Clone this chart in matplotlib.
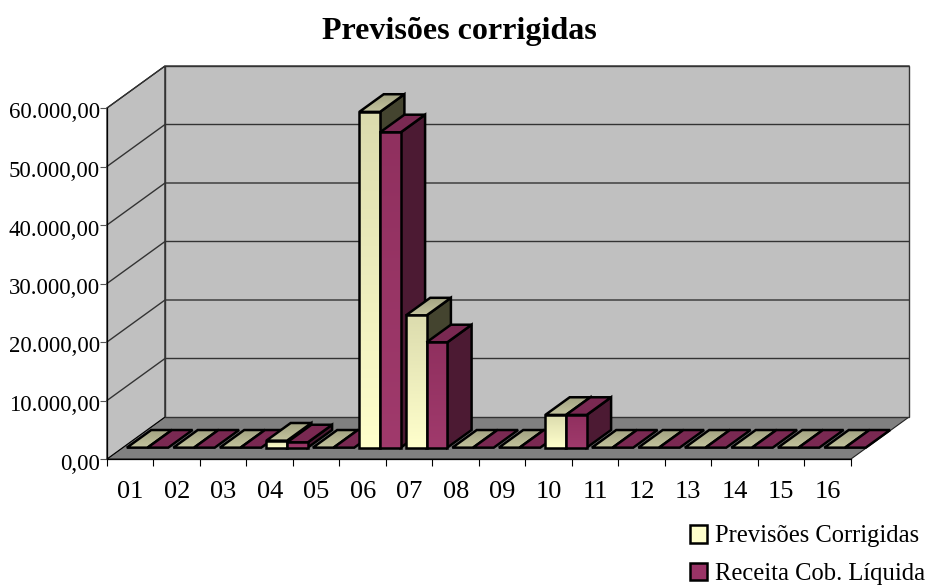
import numpy as np
import matplotlib
matplotlib.use("Agg")
import matplotlib.pyplot as plt
from matplotlib.colors import LinearSegmentedColormap
from matplotlib.patches import Patch, Polygon
from matplotlib.transforms import ScaledTranslation

plt.rcParams["font.family"] = ["Liberation Serif", "DejaVu Serif"]

categories = ["01", "02", "03", "04", "05", "06", "07", "08",
              "09", "10", "11", "12", "13", "14", "15", "16"]
previsoes = [0, 0, 0, 1200, 0, 57400, 22600, 0, 0, 5600, 0, 0, 0, 0, 0, 0]
receita = [0, 0, 0, 900, 0, 53900, 18000, 0, 0, 5600, 0, 0, 0, 0, 0, 0]
series_names = ["Previsões Corrigidas", "Receita Cob. Líquida"]
y_ticks = [0, 10000, 20000, 30000, 40000, 50000, 60000]
y_labels = ["0,00", "10.000,00", "20.000,00", "30.000,00", "40.000,00", "50.000,00", "60.000,00"]

W, H = 928, 586
LEFT, RIGHT, BOTTOM, TOP = 107, 851, 459, 108
YMAX = 60000
# full depth of the box as offsets, in axis units
DX = 58 / ((RIGHT - LEFT) / len(categories))
DY = 42 / ((BOTTOM - TOP) / YMAX)

fig = plt.figure(figsize=(W / 100, H / 100), dpi=100, facecolor="white")
ax = fig.add_axes([LEFT / W, 1 - BOTTOM / H, (RIGHT - LEFT) / W, (BOTTOM - TOP) / H])
ax.set_xlim(0, len(categories))
ax.set_ylim(0, YMAX)
ax.patch.set_visible(False)


def shift(x, y, z):
    return (x + z * DX, y + z * DY)


def face(points, color, z, edge="black", lw=0.8):
    p = Polygon(points, closed=True, facecolor=color, edgecolor=edge, lw=lw,
                clip_on=False, zorder=z, joinstyle="miter")
    ax.add_patch(p)
    return p


def grad_face(points, top_color, bottom_color, z, lw=1.8):
    # vertical gradient clipped to a polygon, outline drawn over it
    pts = np.array(points)
    cmap = LinearSegmentedColormap.from_list("g", [top_color, bottom_color])
    clip = Polygon(points, closed=True, transform=ax.transData, fill=False, lw=0)
    ax.add_patch(clip)
    clip.set_clip_on(False)
    im = ax.imshow(np.linspace(0, 1, 64).reshape(-1, 1), cmap=cmap, aspect="auto",
                   extent=(pts[:, 0].min(), pts[:, 0].max(), pts[:, 1].min(), pts[:, 1].max()),
                   origin="upper", zorder=z, interpolation="bilinear")
    # images are cut at the axes box otherwise, and the bars reach past it
    im.set_clip_box(fig.bbox)
    im.set_clip_path(clip)
    face(points, "none", z + 0.01, lw=lw)


n = len(categories)
# walls and floor
face([shift(0, 0, 0), shift(n, 0, 0), shift(n, 0, 1), shift(0, 0, 1)], "#808080", 1, edge="#222222")
face([shift(0, 0, 0), shift(0, YMAX, 0), shift(0, YMAX, 1), shift(0, 0, 1)], "#c0c0c0", 1, edge="black")
face([shift(0, 0, 1), shift(n, 0, 1), shift(n, YMAX, 1), shift(0, YMAX, 1)], "#c0c0c0", 1.1, edge="#333333", lw=1.0)
for t in y_ticks[1:]:
    ax.plot(*zip(shift(0, t, 0), shift(0, t, 1), shift(n, t, 1)), color="#333333", lw=1.0,
            clip_on=False, zorder=1.2)

# bars
Z0, Z1 = 0.27, 0.69
PAD, BAR_W = 0.09, 0.445
styles = [
    dict(front=("#dcdcae", "#ffffcc"), top=("#a3a382", "#c4c49e"), side="#44442f"),
    dict(front=("#90305f", "#a03a6c"), top=("#7a2952", "#7a2952"), side="#4c1a33"),
]
order = 2
for i in range(n):
    for s, vals in enumerate([previsoes, receita]):
        v = vals[i]
        x0 = i + PAD + s * BAR_W
        x1 = x0 + BAR_W
        st = styles[s]
        if v > 0:
            face([shift(x1, 0, Z0), shift(x1, v, Z0), shift(x1, v, Z1), shift(x1, 0, Z1)],
                 st["side"], order, lw=1.8)
        grad_face([shift(x0, v, Z0), shift(x1, v, Z0), shift(x1, v, Z1), shift(x0, v, Z1)],
                  st["top"][0], st["top"][1], order + 0.1)
        if v > 0:
            grad_face([shift(x0, 0, Z0), shift(x1, 0, Z0), shift(x1, v, Z0), shift(x0, v, Z0)],
                      st["front"][0], st["front"][1], order + 0.2)
        order += 0.5

ax.set_xlim(0, n)
ax.set_ylim(0, YMAX)

# axes
for name in ["top", "right"]:
    ax.spines[name].set_visible(False)
for name in ["left", "bottom"]:
    ax.spines[name].set_linewidth(0.9)
    ax.spines[name].set_zorder(200)
ax.set_yticks(y_ticks)
ax.set_yticklabels(y_labels, fontsize=16.5)
ax.tick_params(axis="y", length=5, width=0.8, color="#555555", pad=0)
# labels sit a little under their tick
down = ScaledTranslation(0, -2.5 / 100, fig.dpi_scale_trans)
for lab in ax.get_yticklabels():
    lab.set_transform(lab.get_transform() + down)
ax.set_xticks(range(n + 1))
ax.set_xticklabels([])
ax.tick_params(axis="x", which="major", length=5, width=0.8)
ax.set_xticks(np.arange(n) + 0.5, minor=True)
ax.set_xticklabels(categories, minor=True, fontsize=19)
ax.tick_params(axis="x", which="minor", length=0, pad=16)

fig.text(459 / W, 1 - 31 / H, "Previsões corrigidas", fontsize=23, fontweight="bold",
         ha="center", va="center")

handles = [Patch(facecolor="#ffffcc", edgecolor="black", lw=1.8, label=series_names[0]),
           Patch(facecolor="#993366", edgecolor="black", lw=1.8, label=series_names[1])]
fig.legend(handles=handles, loc="lower right", bbox_to_anchor=(925 / W, 1 - 585 / H), frameon=False,
           fontsize=17.7, handlelength=0.72, handleheight=0.72, handletextpad=0.3,
           labelspacing=0.62, borderpad=0, borderaxespad=0)

fig.savefig("out.png", dpi=100)
